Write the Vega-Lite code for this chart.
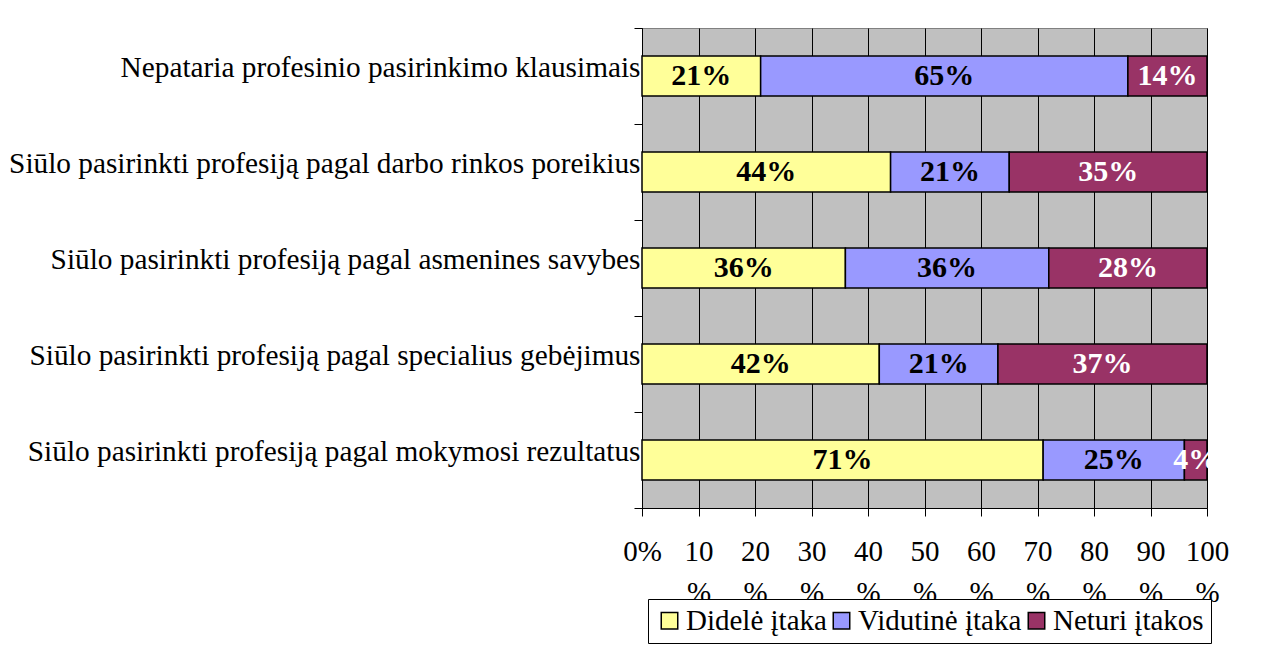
{
  "$schema": "https://vega.github.io/schema/vega-lite/v6.json",
  "autosize": {"type": "none"},
  "width": 565,
  "height": 480,
  "padding": {"left": 642, "top": 28, "right": 70, "bottom": 143},
  "background": "white",
  "data": {
    "values": [
      {"cat": "Nepataria profesinio pasirinkimo klausimais", "series": "Didelė įtaka", "v": 21},
      {"cat": "Nepataria profesinio pasirinkimo klausimais", "series": "Vidutinė įtaka", "v": 65},
      {"cat": "Nepataria profesinio pasirinkimo klausimais", "series": "Neturi įtakos", "v": 14},
      {"cat": "Siūlo pasirinkti profesiją pagal darbo rinkos poreikius", "series": "Didelė įtaka", "v": 44},
      {"cat": "Siūlo pasirinkti profesiją pagal darbo rinkos poreikius", "series": "Vidutinė įtaka", "v": 21},
      {"cat": "Siūlo pasirinkti profesiją pagal darbo rinkos poreikius", "series": "Neturi įtakos", "v": 35},
      {"cat": "Siūlo pasirinkti profesiją pagal asmenines savybes", "series": "Didelė įtaka", "v": 36},
      {"cat": "Siūlo pasirinkti profesiją pagal asmenines savybes", "series": "Vidutinė įtaka", "v": 36},
      {"cat": "Siūlo pasirinkti profesiją pagal asmenines savybes", "series": "Neturi įtakos", "v": 28},
      {"cat": "Siūlo pasirinkti profesiją pagal specialius gebėjimus", "series": "Didelė įtaka", "v": 42},
      {"cat": "Siūlo pasirinkti profesiją pagal specialius gebėjimus", "series": "Vidutinė įtaka", "v": 21},
      {"cat": "Siūlo pasirinkti profesiją pagal specialius gebėjimus", "series": "Neturi įtakos", "v": 37},
      {"cat": "Siūlo pasirinkti profesiją pagal mokymosi rezultatus", "series": "Didelė įtaka", "v": 71},
      {"cat": "Siūlo pasirinkti profesiją pagal mokymosi rezultatus", "series": "Vidutinė įtaka", "v": 25},
      {"cat": "Siūlo pasirinkti profesiją pagal mokymosi rezultatus", "series": "Neturi įtakos", "v": 4}
    ]
  },
  "transform": [
    {"stack": "v", "groupby": ["cat"], "as": ["x0", "x1"]}
  ],
  "encoding": {
    "y": {
      "field": "cat",
      "type": "nominal",
      "sort": null,
      "title": null,
      "scale": {"paddingInner": 0, "paddingOuter": 0},
      "axis": {
        "tickBand": "extent",
        "labelOffset": -9,
        "tickSize": 8,
        "tickColor": "black",
        "domainColor": "black",
        "labelPadding": -6,
        "labelFont": "Liberation Serif",
        "labelFontSize": 29.3,
        "labelColor": "black",
        "labelLimit": 0,
        "grid": false
      }
    }
  },
  "layer": [
    {
      "mark": {"type": "bar", "stroke": "black", "strokeWidth": 1.5, "height": {"band": 0.415}},
      "encoding": {
        "x": {
          "field": "x0",
          "type": "quantitative",
          "title": null,
          "scale": {"domain": [0, 100], "nice": false},
          "axis": {
            "values": [0, 10, 20, 30, 40, 50, 60, 70, 80, 90, 100],
            "format": "d",
            "labelExpr": "datum.value == 0 ? '0%' : [datum.label, '%']",
            "labelFont": "Liberation Serif",
            "labelFontSize": 29,
            "labelColor": "black",
            "labelLineHeight": 41,
            "labelPadding": 21,
            "labelFlush": false,
            "labelOverlap": false,
            "tickSize": 8,
            "tickColor": "black",
            "domainColor": "black",
            "grid": true,
            "gridColor": "black",
            "gridOpacity": 1,
            "gridWidth": 1
          }
        },
        "x2": {"field": "x1"},
        "color": {
          "field": "series",
          "type": "nominal",
          "scale": {
            "domain": ["Didelė įtaka", "Vidutinė įtaka", "Neturi įtakos"],
            "range": ["#FFFF99", "#9999FF", "#993366"]
          },
          "legend": {
            "title": null,
            "orient": "none",
            "legendX": 6,
            "legendY": 571,
            "direction": "horizontal",
            "symbolType": "square",
            "symbolSize": 272,
            "symbolStrokeColor": "black",
            "symbolStrokeWidth": 1.5,
            "symbolOpacity": 1,
            "labelFont": "Liberation Serif",
            "labelFontSize": 29,
            "labelColor": "black",
            "labelLimit": 0,
            "labelOffset": 2,
            "columnPadding": -14,
            "padding": 7,
            "strokeColor": "black",
            "fillColor": "white"
          }
        }
      }
    },
    {
      "mark": {
        "type": "text",
        "font": "Liberation Serif",
        "fontSize": 30,
        "fontWeight": "bold",
        "baseline": "middle",
        "align": "center",
        "text": {"expr": "datum.v + '%'"}
      },
      "encoding": {
        "x": {"field": "v", "type": "quantitative", "stack": "zero", "bandPosition": 0.5},
        "detail": {"field": "series"},
        "order": {"field": "x0"},
        "color": {
          "condition": {"test": "datum.series == 'Neturi įtakos'", "value": "white"},
          "value": "black"
        }
      }
    }
  ],
  "config": {
    "view": {"fill": "#C0C0C0", "stroke": "#808080", "strokeWidth": 1}
  }
}
